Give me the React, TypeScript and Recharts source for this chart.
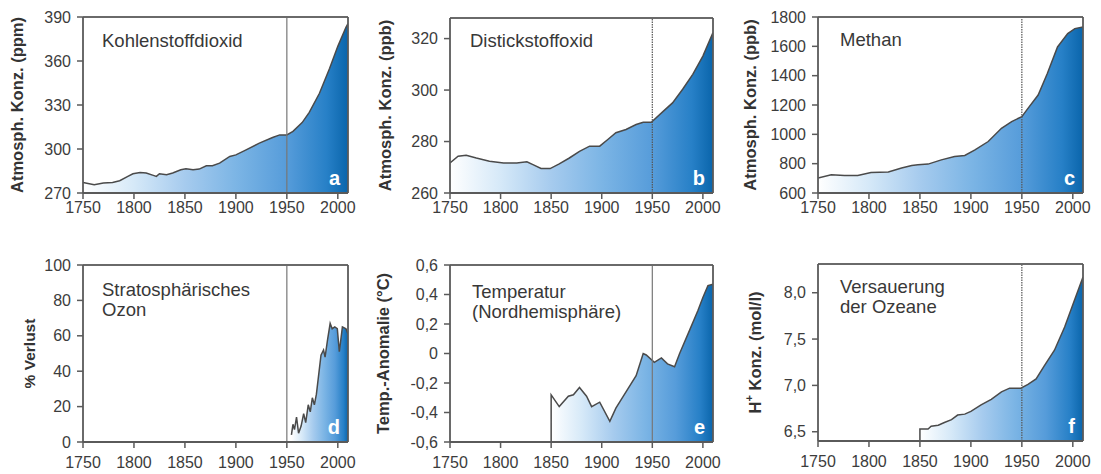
import React from 'react';
import { AreaChart, Area, XAxis, YAxis, ReferenceLine } from 'recharts';

const FONT = '"Liberation Sans", Arial, Helvetica, sans-serif';

const xTicks = [1750, 1800, 1850, 1900, 1950, 2000];
const X_MIN = 1750;
const X_MAX = 2010;

// a) CO2 (ppm)
const co2Years = [1750, 1761, 1770, 1779, 1786, 1794, 1799, 1806, 1812, 1819, 1822, 1825, 1832, 1838, 1846, 1851, 1858, 1864, 1871, 1877, 1884, 1894, 1900, 1910, 1923, 1936, 1943, 1950, 1956, 1965, 1972, 1982, 1992, 2000, 2008, 2010];
const co2Values = [277.2, 275.7, 276.8, 277.2, 278.4, 281.3, 283.1, 284.0, 283.6, 282.0, 281.3, 283.1, 282.5, 283.6, 285.8, 286.5, 285.8, 286.3, 288.6, 288.6, 290.4, 294.9, 296.0, 299.4, 304.0, 307.8, 309.6, 309.6, 312.0, 318.0, 325.0, 338.0, 355.0, 370.0, 383.0, 385.5];
const co2Ticks = [270, 300, 330, 360, 390];

// b) N2O (ppb)
const n2oYears = [1750, 1758, 1766, 1776, 1789, 1803, 1816, 1826, 1832, 1840, 1849, 1858, 1868, 1878, 1888, 1898, 1906, 1914, 1924, 1934, 1941, 1949, 1961, 1970, 1980, 1990, 2000, 2010];
const n2oValues = [271.7, 274.3, 274.7, 273.6, 272.3, 271.7, 271.7, 272.1, 271.0, 269.5, 269.5, 271.3, 273.6, 276.2, 278.2, 278.2, 280.8, 283.4, 284.7, 286.6, 287.5, 287.5, 291.8, 295.0, 300.3, 306.1, 313.2, 322.3];
const n2oTicks = [260, 280, 300, 320];

// c) CH4 (ppb)
const ch4Years = [1750, 1763, 1776, 1789, 1802, 1819, 1832, 1842, 1848, 1858, 1871, 1884, 1894, 1904, 1917, 1930, 1940, 1950, 1956, 1966, 1975, 1985, 1995, 2002, 2010];
const ch4Values = [702, 725, 720, 720, 740, 743, 770, 788, 792, 797, 826, 849, 856, 894, 951, 1041, 1087, 1121, 1177, 1268, 1415, 1596, 1687, 1721, 1732];
const ch4Ticks = [600, 800, 1000, 1200, 1400, 1600, 1800];

// d) Stratospheric ozone (% loss)
const ozoneYears = [1954.5, 1956, 1957.5, 1959.5, 1961.5, 1964, 1966.5, 1968.5, 1971, 1973, 1975, 1977, 1979, 1983.5, 1986, 1987.5, 1990, 1992.5, 1994.5, 1997, 1999.5, 2001.5, 2004.5, 2008, 2010];
const ozoneValues = [4, 10, 7, 14, 5, 9, 16, 11, 21, 17, 25, 21, 27, 49, 52, 48, 58, 67, 64, 65, 64, 51, 65, 64, 61];
const ozoneTicks = [0, 20, 40, 60, 80, 100];

// e) Temperature anomaly NH (°C)
const tempYears = [1850, 1850, 1858, 1867, 1872, 1878, 1885, 1890, 1898, 1908, 1914, 1924, 1934, 1941, 1944, 1952, 1959, 1965, 1972, 1977, 1987, 1995, 2000, 2005, 2010];
const tempValues = [-0.6, -0.28, -0.36, -0.29, -0.28, -0.23, -0.29, -0.36, -0.33, -0.46, -0.37, -0.26, -0.15, 0.0, -0.01, -0.06, -0.03, -0.07, -0.09, 0.0, 0.16, 0.29, 0.38, 0.46, 0.47];
const tempTicks = [-0.6, -0.4, -0.2, 0, 0.2, 0.4, 0.6];

// f) Ocean acidification (H+ conc.)
const oceanYears = [1850, 1850, 1858, 1861, 1868, 1874, 1881, 1887, 1894, 1900, 1910, 1920, 1930, 1938, 1949, 1956, 1964, 1972, 1982, 1992, 2000, 2010];
const oceanValues = [6.4, 6.53, 6.53, 6.56, 6.57, 6.6, 6.63, 6.68, 6.69, 6.72, 6.79, 6.85, 6.93, 6.97, 6.97, 7.01, 7.07, 7.21, 7.38, 7.63, 7.87, 8.17];
const oceanTicks = [6.5, 7.0, 7.5, 8.0];

const intFmt = (v: number) => String(v);
const tempFmt = (v: number) => (Math.abs(v) < 1e-9 ? '0' : v.toFixed(1).replace('.', ','));
const decFmt = (v: number) => v.toFixed(1).replace('.', ',');

type PanelCfg = {
  id: string;
  letter: string;
  title: string[];
  yTitle: React.ReactNode;
  yTitleX: number;
  yTitleSize: number;
  years: number[];
  values: number[];
  ticks: number[];
  domain: [number, number];
  fmt: (v: number) => string;
  left: number;
  top: number;
  width: number;
  mTop: number;
  mRight: number;
  mBottom: number;
  xTickMargin: number;
  titleDx: number;
  titleDy: number;
  dotted: boolean;
};

const ROW_H = 237;
const Y_AXIS_W = 83;

const panels: PanelCfg[] = [
  { id: 'a', letter: 'a', title: ['Kohlenstoffdioxid'], yTitle: 'Atmosph. Konz. (ppm)', yTitleX: 17, yTitleSize: 16.5, years: co2Years, values: co2Values, ticks: co2Ticks, domain: [270, 390], fmt: intFmt, left: 0, top: 0, width: 360, mTop: 17, mRight: 12, mBottom: 14, xTickMargin: 3, titleDx: 19, titleDy: 30, dotted: false },
  { id: 'b', letter: 'b', title: ['Distickstoffoxid'], yTitle: 'Atmosph. Konz. (ppb)', yTitleX: 18, yTitleSize: 16.5, years: n2oYears, values: n2oValues, ticks: n2oTicks, domain: [260, 328], fmt: intFmt, left: 367, top: 0, width: 360, mTop: 18, mRight: 14, mBottom: 14, xTickMargin: 3, titleDx: 20, titleDy: 29, dotted: true },
  { id: 'c', letter: 'c', title: ['Methan'], yTitle: 'Atmosph. Konz. (ppb)', yTitleX: 15, yTitleSize: 16.5, years: ch4Years, values: ch4Values, ticks: ch4Ticks, domain: [600, 1800], fmt: intFmt, left: 735, top: 0, width: 366, mTop: 17, mRight: 18, mBottom: 14, xTickMargin: 3, titleDx: 22, titleDy: 29, dotted: true },
  { id: 'd', letter: 'd', title: ['Stratosphärisches', 'Ozon'], yTitle: '% Verlust', yTitleX: 29, yTitleSize: 15.5, years: ozoneYears, values: ozoneValues, ticks: ozoneTicks, domain: [0, 100], fmt: intFmt, left: 0, top: ROW_H, width: 360, mTop: 28, mRight: 12, mBottom: 2, xTickMargin: 9, titleDx: 19, titleDy: 31, dotted: false },
  { id: 'e', letter: 'e', title: ['Temperatur', '(Nordhemisphäre)'], yTitle: 'Temp.-Anomalie (°C)', yTitleX: 16, yTitleSize: 16.5, years: tempYears, values: tempValues, ticks: tempTicks, domain: [-0.6, 0.6], fmt: tempFmt, left: 367, top: ROW_H, width: 360, mTop: 28, mRight: 14, mBottom: 2, xTickMargin: 9, titleDx: 22, titleDy: 33, dotted: false },
  {
    id: 'f', letter: 'f', title: ['Versauerung', 'der Ozeane'],
    yTitle: (
      <>
        <tspan>H</tspan>
        <tspan dy={-6} fontSize={11}>+</tspan>
        <tspan dy={6}> Konz. (mol/l)</tspan>
      </>
    ),
    yTitleX: 20, yTitleSize: 16.5, years: oceanYears, values: oceanValues, ticks: oceanTicks, domain: [6.4, 8.31], fmt: decFmt, left: 735, top: ROW_H, width: 366, mTop: 27, mRight: 18, mBottom: 3, xTickMargin: 9, titleDx: 22, titleDy: 29, dotted: true,
  },
];

const gradStops: [number, string][] = [
  [0, '#ffffff'],
  [0.19, '#d6e9f8'],
  [0.385, '#a6cbee'],
  [0.577, '#7cb5e5'],
  [0.77, '#569cda'],
  [0.92, '#2780c7'],
  [1, '#0a65ab'],
];

const FRAME = '#5a5a5a';

function Panel({ p }: { p: PanelCfg }) {
  const data = p.years.map((y, i) => ({ year: y, value: p.values[i] }));
  const gid = `grad-${p.id}`;

  const labels = (props: any) => {
    const vb = props.viewBox || {};
    const plotTop = vb.y || 0;
    const plotH = vb.height || 0;
    const plotLeft = (vb.x || 0) + (vb.width || Y_AXIS_W);
    const plotRight = p.width - p.mRight;
    const cy = plotTop + plotH / 2;
    const cx = p.yTitleX;
    const tx = plotLeft + p.titleDx;
    const ty = plotTop + p.titleDy;
    return (
      <g>
        <text
          x={cx}
          y={cy}
          transform={`rotate(-90, ${cx}, ${cy})`}
          textAnchor="middle"
          dominantBaseline="central"
          fontFamily={FONT}
          fontWeight="bold"
          fontSize={p.yTitleSize}
          fill="#333"
        >
          {p.yTitle}
        </text>
        <text x={tx} y={ty} fontFamily={FONT} fontSize={18.5} fill="#383838">
          {p.title.map((t, i) => (
            <tspan key={i} x={tx} dy={i === 0 ? 0 : 20}>
              {t}
            </tspan>
          ))}
        </text>
        <text
          x={plotRight - 8}
          y={plotTop + plotH - 8}
          textAnchor="end"
          fontFamily={FONT}
          fontWeight="bold"
          fontSize={20}
          fill="#ffffff"
        >
          {p.letter}
        </text>
      </g>
    );
  };

  return (
    <div style={{ position: 'absolute', left: p.left, top: p.top }}>
      <AreaChart
        width={p.width}
        height={ROW_H}
        data={data}
        margin={{ top: p.mTop, right: p.mRight, bottom: p.mBottom, left: 0 }}
      >
        <defs>
          <linearGradient id={gid} x1="0" y1="0" x2="1" y2="0">
            {gradStops.map(([o, c]) => (
              <stop key={o} offset={o} stopColor={c} />
            ))}
          </linearGradient>
        </defs>
        <XAxis
          dataKey="year"
          type="number"
          domain={[X_MIN, X_MAX]}
          ticks={xTicks}
          allowDataOverflow
          height={30}
          tickSize={6}
          tickMargin={p.xTickMargin}
          axisLine={{ stroke: FRAME, strokeWidth: 1.8 }}
          tickLine={{ stroke: FRAME, strokeWidth: 1.5 }}
          tick={{ fill: '#3c3c3c', fontSize: 16, fontFamily: FONT }}
        />
        <YAxis
          type="number"
          domain={p.domain}
          ticks={p.ticks}
          allowDataOverflow
          width={Y_AXIS_W}
          tickSize={6}
          tickMargin={6}
          tickFormatter={p.fmt}
          axisLine={{ stroke: FRAME, strokeWidth: 1.8 }}
          tickLine={{ stroke: FRAME, strokeWidth: 1.5 }}
          tick={{ fill: '#3c3c3c', fontSize: 16, fontFamily: FONT }}
          label={labels}
        />
        <Area
          type="linear"
          dataKey="value"
          baseValue="dataMin"
          stroke="#4a4a4a"
          strokeWidth={1.5}
          fill={`url(#${gid})`}
          fillOpacity={1}
          dot={false}
          activeDot={false}
          isAnimationActive={false}
        />
        <ReferenceLine
          x={1950}
          stroke={p.dotted ? '#555' : '#777'}
          strokeWidth={1.2}
          strokeDasharray={p.dotted ? '1.5 1' : undefined}
        />
        <ReferenceLine y={p.domain[1]} stroke="#6a6a6a" strokeWidth={1.8} />
        <ReferenceLine x={X_MAX} stroke={FRAME} strokeWidth={1.8} />
      </AreaChart>
    </div>
  );
}

export default function App() {
  return (
    <div style={{ position: 'absolute', left: 0, top: 0, width: 1101, height: 474, background: '#fff' }}>
      {panels.map((p) => (
        <Panel key={p.id} p={p} />
      ))}
    </div>
  );
}
